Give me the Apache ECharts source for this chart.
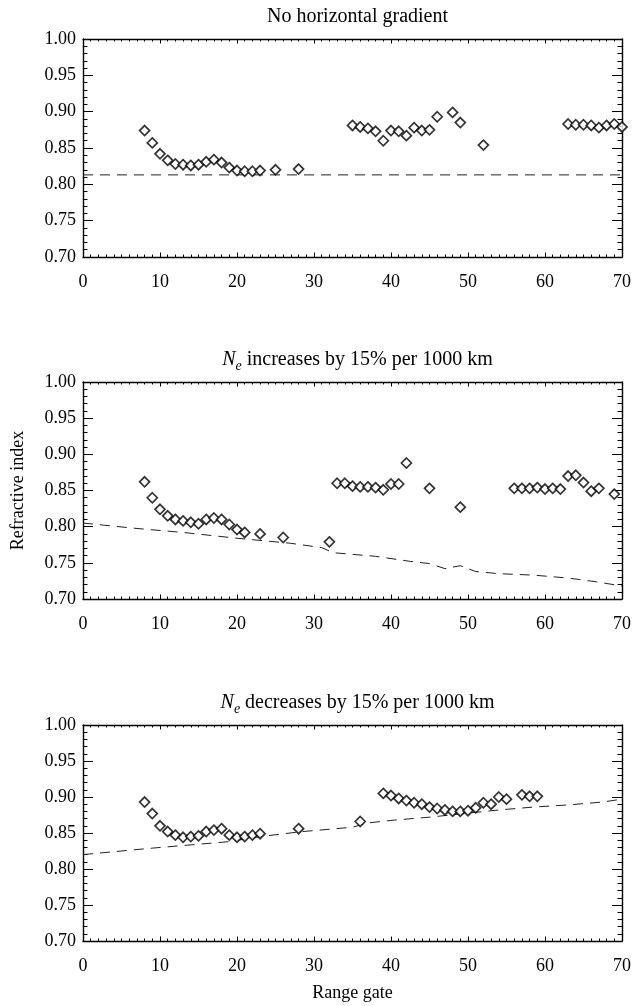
<!DOCTYPE html>
<html>
<head>
<meta charset="utf-8">
<title>Refractive index versus range gate</title>
<script src="https://cdn.jsdelivr.net/npm/echarts@6/dist/echarts.min.js"></script>
<style>
  html, body { margin: 0; padding: 0; background: #ffffff; }
  #chart { width: 634px; height: 1006px; }
</style>
</head>
<body>
<div id="chart"></div>
<script>
// Range-gate axis ticks and refractive-index ticks
const gateTicks = [0, 10, 20, 30, 40, 50, 60, 70];
const indexTicks = [0.70, 0.75, 0.80, 0.85, 0.90, 0.95, 1.00];

// Panel 1: no horizontal gradient
const gatesFlat = [8, 9, 10, 11, 12, 13, 14, 15, 16, 17, 18, 19, 20, 21, 22, 23, 25, 28,
  35, 36, 37, 38, 39, 40, 41, 42, 43, 44, 45, 46, 48, 49, 52,
  63, 64, 65, 66, 67, 68, 69, 70];
const indexFlat = [0.874, 0.857, 0.842, 0.833, 0.828, 0.827, 0.826, 0.827, 0.831, 0.834, 0.830, 0.823, 0.819, 0.818, 0.818, 0.819, 0.820, 0.821,
  0.881, 0.879, 0.877, 0.873, 0.860, 0.874, 0.873, 0.867, 0.878, 0.874, 0.875, 0.893, 0.899, 0.885, 0.854,
  0.883, 0.882, 0.882, 0.881, 0.878, 0.881, 0.883, 0.879];
const modelGatesFlat = [0, 70];
const modelFlat = [0.813, 0.813];

// Panel 2: Ne increases by 15% per 1000 km
const gatesInc = [8, 9, 10, 11, 12, 13, 14, 15, 16, 17, 18, 19, 20, 21, 23, 26, 32,
  33, 34, 35, 36, 37, 38, 39, 40, 41, 42, 45, 49,
  56, 57, 58, 59, 60, 61, 62, 63, 64, 65, 66, 67, 69];
const indexInc = [0.862, 0.840, 0.824, 0.815, 0.810, 0.808, 0.806, 0.804, 0.810, 0.812, 0.810, 0.803, 0.796, 0.792, 0.790, 0.785, 0.779,
  0.860, 0.860, 0.856, 0.855, 0.855, 0.854, 0.851, 0.859, 0.859, 0.888, 0.853, 0.827,
  0.853, 0.853, 0.853, 0.854, 0.852, 0.853, 0.852, 0.870, 0.871, 0.861, 0.849, 0.853, 0.845];
const modelGatesInc = [0, 6.5, 13, 20, 27, 31, 32.5, 38, 42.5, 45, 47, 49, 51, 54, 58.5, 63, 66.5, 70];
const modelInc = [0.805, 0.798, 0.792, 0.784, 0.777, 0.771, 0.764, 0.759, 0.752, 0.749, 0.742, 0.746, 0.738, 0.735, 0.733, 0.729, 0.724, 0.718];

// Panel 3: Ne decreases by 15% per 1000 km
const gatesDec = [8, 9, 10, 11, 12, 13, 14, 15, 16, 17, 18, 19, 20, 21, 22, 23, 28, 36,
  39, 40, 41, 42, 43, 44, 45, 46, 47, 48, 49, 50, 51, 52, 53, 54, 55, 57, 58, 59];
const indexDec = [0.893, 0.877, 0.860, 0.852, 0.847, 0.844, 0.845, 0.846, 0.852, 0.854, 0.856, 0.847, 0.844, 0.845, 0.847, 0.849, 0.856, 0.866,
  0.905, 0.902, 0.898, 0.895, 0.892, 0.890, 0.886, 0.884, 0.882, 0.880, 0.880, 0.881, 0.885, 0.892, 0.890, 0.900, 0.897, 0.903, 0.901, 0.901];
const modelGatesDec = [0, 9, 19, 23, 28.5, 35, 37, 40.5, 45, 49.5, 54, 58.5, 63, 67.5, 70];
const modelDec = [0.820, 0.829, 0.838, 0.845, 0.852, 0.858, 0.864, 0.868, 0.872, 0.877, 0.882, 0.886, 0.889, 0.893, 0.897];

const panelTitles = [
  'No horizontal gradient',
  '{it|N}{sub|e} increases by 15% per 1000 km',
  '{it|N}{sub|e} decreases by 15% per 1000 km'
];
const xAxisName = 'Range gate';
const yAxisName = 'Refractive index';

const FONT = 'Liberation Serif';
const INK = '#000000';

const panels = [
  { gates: gatesFlat, values: indexFlat, mGates: modelGatesFlat, mValues: modelFlat },
  { gates: gatesInc, values: indexInc, mGates: modelGatesInc, mValues: modelInc },
  { gates: gatesDec, values: indexDec, mGates: modelGatesDec, mValues: modelDec }
];

const gridTops = [39, 382, 725];
const gridHeights = [218, 217, 216];
const plotLeft = 83;
const plotRight = 12;
const plotCenterX = plotLeft + (634 - plotLeft - plotRight) / 2;

const pairs = (xs, ys) => xs.map((x, i) => [x, ys[i]]);

const grids = [], xAxes = [], yAxes = [], series = [], titles = [];

panels.forEach((p, k) => {
  grids.push({ left: plotLeft, right: plotRight, top: gridTops[k], height: gridHeights[k] });

  const xBase = {
    gridIndex: k, type: 'value',
    min: gateTicks[0], max: gateTicks[gateTicks.length - 1], interval: 10,
    axisLine: { show: true, onZero: false, lineStyle: { color: INK, width: 1.4 } },
    axisTick: { show: true, inside: true, length: 4.5, lineStyle: { color: INK, width: 1 } },
    minorTick: { show: true, splitNumber: 10, length: 2.5, lineStyle: { color: INK, width: 1 } },
    splitLine: { show: false }
  };
  xAxes.push(Object.assign({}, xBase, {
    position: 'bottom',
    axisLabel: { show: true, color: INK, fontFamily: FONT, fontSize: 18, margin: 16 },
    name: k === 2 ? xAxisName : '',
    nameLocation: 'middle', nameGap: 43,
    nameTextStyle: { color: INK, fontFamily: FONT, fontSize: 18 }
  }));
  xAxes.push(Object.assign({}, xBase, { position: 'top', axisLabel: { show: false } }));

  const yBase = {
    gridIndex: k, type: 'value',
    min: indexTicks[0], max: indexTicks[indexTicks.length - 1], interval: 0.05,
    axisLine: { show: true, onZero: false, lineStyle: { color: INK, width: 1.4 } },
    axisTick: { show: true, inside: true, length: 10, lineStyle: { color: INK, width: 1 } },
    minorTick: { show: true, splitNumber: 5, length: 4.5, lineStyle: { color: INK, width: 1 } },
    splitLine: { show: false }
  };
  yAxes.push(Object.assign({}, yBase, {
    position: 'left',
    axisLabel: { show: true, color: INK, fontFamily: FONT, fontSize: 18, margin: 7,
      formatter: v => v.toFixed(2) },
    name: k === 1 ? yAxisName : '',
    nameLocation: 'middle', nameGap: 56, nameRotate: 90,
    nameTextStyle: { color: INK, fontFamily: FONT, fontSize: 18 }
  }));
  yAxes.push(Object.assign({}, yBase, { position: 'right', axisLabel: { show: false } }));

  titles.push({
    text: panelTitles[k],
    left: plotCenterX, top: gridTops[k] - 40, textAlign: 'center',
    textStyle: {
      color: INK, fontFamily: FONT, fontSize: 20, fontWeight: 'normal', lineHeight: 26,
      rich: {
        it: { fontFamily: FONT, fontSize: 20, fontStyle: 'italic', color: INK, lineHeight: 26, verticalAlign: 'middle' },
        sub: { fontFamily: FONT, fontSize: 14, fontStyle: 'italic', color: INK, lineHeight: 26, verticalAlign: 'bottom' }
      }
    }
  });

  // model curve drawn dashed
  series.push({
    type: 'line', xAxisIndex: 2 * k, yAxisIndex: 2 * k,
    data: pairs(p.mGates, p.mValues),
    showSymbol: false, symbol: 'none', silent: true,
    lineStyle: { color: '#222222', width: 1, type: [10, 7] },
    z: 2
  });
  // measured refractive index, open diamonds
  series.push({
    type: 'scatter', xAxisIndex: 2 * k, yAxisIndex: 2 * k,
    data: pairs(p.gates, p.values),
    symbol: 'diamond', symbolSize: 10,
    itemStyle: { color: '#ffffff', borderColor: INK, borderWidth: 1.7 },
    clip: false,
    z: 3
  });
});

const chart = echarts.init(document.getElementById('chart'), null, { renderer: 'canvas' });
chart.setOption({
  backgroundColor: '#ffffff',
  animation: false,
  title: titles,
  grid: grids,
  xAxis: xAxes,
  yAxis: yAxes,
  series: series
});
</script>
</body>
</html>
